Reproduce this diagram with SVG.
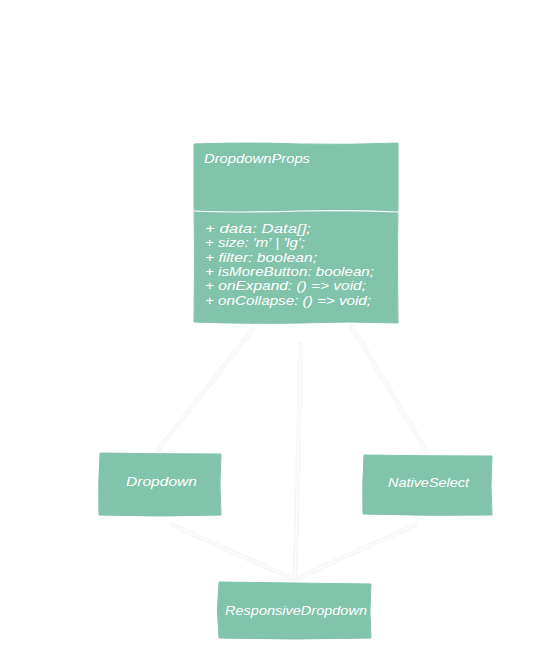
<svg xmlns="http://www.w3.org/2000/svg" width="533" height="651" viewBox="0 0 533 651">
<style>
.box{fill:#82c3ac;stroke:#82c3ac;stroke-width:1}
.div{stroke:#ffffff;stroke-width:1.2;fill:none}
.t{fill:#ffffff;font-family:"Liberation Sans","DejaVu Sans",sans-serif;font-style:italic;font-size:13px}
.c{fill:none;stroke:#f7f7f7;stroke-width:5;stroke-linecap:round}
.ci{fill:none;stroke:#fcfcfc;stroke-width:1.5;stroke-linecap:round}
</style>
<rect width="533" height="651" fill="#ffffff"/>
<g id="connectors">
<path class="c" d="M253,329 L158,450"/>
<path class="ci" d="M253,329 L158,450"/>
<path class="c" d="M301,344 L295,580"/>
<path class="ci" d="M301,344 L295,580"/>
<path class="c" d="M352,327 L427,452"/>
<path class="ci" d="M352,327 L427,452"/>
<path class="c" d="M172,525 L291,578"/>
<path class="ci" d="M172,525 L291,578"/>
<path class="c" d="M415,525 L298,578"/>
<path class="ci" d="M415,525 L298,578"/>
</g>
<g id="DropdownProps">
<path class="box" d="M194,144 Q250,142 300,144 Q350,145 398,143 L398,200 Q397,260 398,323 Q350,321 300,323 Q250,324 194,322 Q195,260 194,200 Z"/>
<path class="div" d="M194,211 Q240,213 300,211 Q350,210 398,212"/>
<text class="t" x="204" y="163" textLength="106" lengthAdjust="spacingAndGlyphs">DropdownProps</text>
<text class="t" x="205" y="233" textLength="106" lengthAdjust="spacingAndGlyphs">+ data: Data[];</text>
<text class="t" x="205" y="247" textLength="100" lengthAdjust="spacingAndGlyphs">+ size: 'm' | 'lg';</text>
<text class="t" x="205" y="262" textLength="112" lengthAdjust="spacingAndGlyphs">+ filter: boolean;</text>
<text class="t" x="205" y="276" textLength="169" lengthAdjust="spacingAndGlyphs">+ isMoreButton: boolean;</text>
<text class="t" x="205" y="290" textLength="161" lengthAdjust="spacingAndGlyphs">+ onExpand: () =&gt; void;</text>
<text class="t" x="205" y="305" textLength="166" lengthAdjust="spacingAndGlyphs">+ onCollapse: () =&gt; void;</text>
</g>
<g id="Dropdown">
<path class="box" d="M100,453 Q160,454 221,454 Q219,485 221,515 Q160,517 99,515 Q98,485 100,453 Z"/>
<text class="t" x="126" y="486" textLength="71" lengthAdjust="spacingAndGlyphs">Dropdown</text>
</g>
<g id="NativeSelect">
<path class="box" d="M364,455 Q428,456 492,456 Q490,486 492,515 Q428,516 363,514 Q362,485 364,455 Z"/>
<text class="t" x="388" y="487" textLength="81" lengthAdjust="spacingAndGlyphs">NativeSelect</text>
</g>
<g id="ResponsiveDropdown">
<path class="box" d="M219,582 Q295,583 371,584 Q369,612 371,638 Q295,640 219,638 Q216,610 219,582 Z"/>
<text class="t" x="225" y="615" textLength="142" lengthAdjust="spacingAndGlyphs">ResponsiveDropdown</text>
</g>
</svg>
